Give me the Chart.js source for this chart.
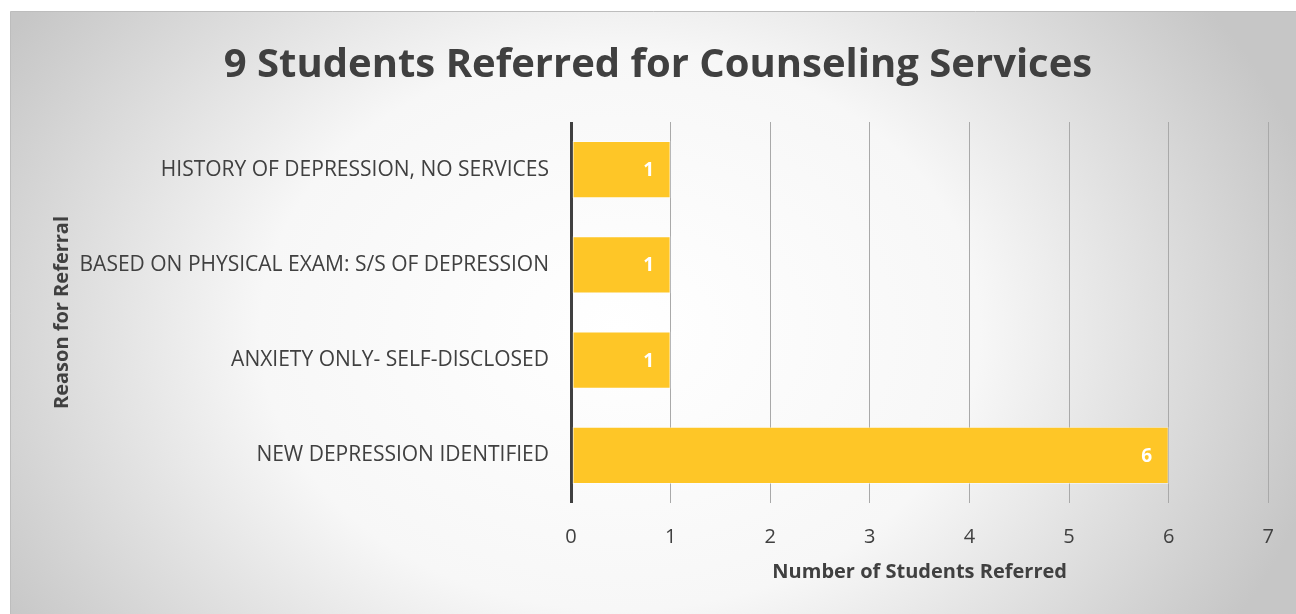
<!DOCTYPE html>
<html>
<head>
<meta charset="utf-8">
<script src="https://cdn.jsdelivr.net/npm/chart.js@4"></script>
<style>
  html, body { margin: 0; padding: 0; background: #fff; }
  #wrap { width: 1296px; height: 614px; position: relative; }
</style>
</head>
<body>
<div id="wrap"><canvas id="referralChart"></canvas></div>
<script>
const reasons = [
  'HISTORY OF DEPRESSION, NO SERVICES',
  'BASED ON PHYSICAL EXAM: S/S OF DEPRESSION',
  'ANXIETY ONLY- SELF-DISCLOSED',
  'NEW DEPRESSION IDENTIFIED'
];
const studentCounts = [1, 1, 1, 6];
const xTicks = [0, 1, 2, 3, 4, 5, 6, 7];

const FONT = "'Open Sans', 'DejaVu Sans', sans-serif";
const DARK = '#404040';

// framed panel with a soft radial fill behind everything
const panelBackground = {
  id: 'panelBackground',
  beforeDraw(chart) {
    const { ctx, width, height } = chart;
    const x0 = 10.5, y0 = 11.5;
    const cx = 620, cy = 330, rx = 720, ry = 560;
    ctx.save();
    ctx.fillStyle = '#fff';
    ctx.fillRect(0, 0, width, height);

    ctx.save();
    ctx.translate(cx, cy);
    ctx.scale(1, ry / rx);
    const g = ctx.createRadialGradient(0, 0, 0, 0, 0, rx);
    g.addColorStop(0, '#ffffff');
    g.addColorStop(0.5, '#f7f7f7');
    g.addColorStop(1, '#c6c6c6');
    ctx.fillStyle = g;
    ctx.fillRect(x0 - cx, (y0 - cy) * rx / ry, width - x0, (height - y0 + 10) * rx / ry);
    ctx.restore();

    ctx.strokeStyle = '#bdbdbd';
    ctx.lineWidth = 1;
    ctx.beginPath();
    ctx.moveTo(x0, height + 2);
    ctx.lineTo(x0, y0);
    ctx.lineTo(width + 2, y0);
    ctx.stroke();
    ctx.restore();
  }
};

// white value labels near the end of each bar
const barValues = {
  id: 'barValues',
  afterDatasetsDraw(chart) {
    const { ctx } = chart;
    const meta = chart.getDatasetMeta(0);
    ctx.save();
    ctx.font = `bold 19px ${FONT}`;
    ctx.fillStyle = '#ffffff';
    ctx.textAlign = 'center';
    ctx.textBaseline = 'middle';
    meta.data.forEach((bar, i) => {
      const { x, y } = bar.getProps(['x', 'y'], true);
      ctx.fillText(String(studentCounts[i]), x - 22, y + 1);
    });
    ctx.restore();
  }
};

new Chart(document.getElementById('referralChart'), {
  type: 'bar',
  data: {
    labels: reasons,
    datasets: [{
      data: studentCounts,
      backgroundColor: '#fec627',
      borderColor: 'rgba(255,255,255,0.45)',
      borderWidth: 1,
      borderSkipped: false,
      barPercentage: 0.6,
      categoryPercentage: 1
    }]
  },
  options: {
    indexAxis: 'y',
    responsive: true,
    maintainAspectRatio: false,
    animation: false,
    layout: { padding: { left: 46, right: 26, top: 0, bottom: 0 } },
    scales: {
      x: {
        type: 'linear',
        min: 0,
        max: 7,
        afterBuildTicks: scale => { scale.ticks = xTicks.map(v => ({ value: v })); },
        afterFit: scale => { scale.height = 111; },
        ticks: {
          color: DARK,
          padding: 22,
          font: { family: FONT, size: 20 }
        },
        grid: {
          drawTicks: false,
          color: c => c.tick && c.tick.value === 0 ? DARK : '#a9a9a9',
          lineWidth: c => c.tick && c.tick.value === 0 ? 3 : 1
        },
        border: { display: false },
        title: {
          display: true,
          text: 'Number of Students Referred',
          color: DARK,
          font: { family: FONT, size: 20, weight: 'bold' },
          padding: { top: 0, bottom: 30 }
        }
      },
      y: {
        afterFit: scale => { scale.width = 525; },
        ticks: {
          color: DARK,
          padding: 22,
          font: { family: FONT, size: 21 }
        },
        grid: { display: false, drawTicks: false },
        border: { display: false },
        title: {
          display: true,
          text: 'Reason for Referral',
          color: DARK,
          font: { family: FONT, size: 20, weight: 'bold' },
          padding: { top: 4, bottom: 0 }
        }
      }
    },
    plugins: {
      legend: { display: false },
      tooltip: { enabled: false },
      title: {
        display: true,
        text: '9 Students Referred for Counseling Services',
        color: DARK,
        font: { family: FONT, size: 40, weight: 'bold' },
        padding: { top: 42, bottom: 32 }
      }
    }
  },
  plugins: [panelBackground, barValues]
});
</script>
</body>
</html>
